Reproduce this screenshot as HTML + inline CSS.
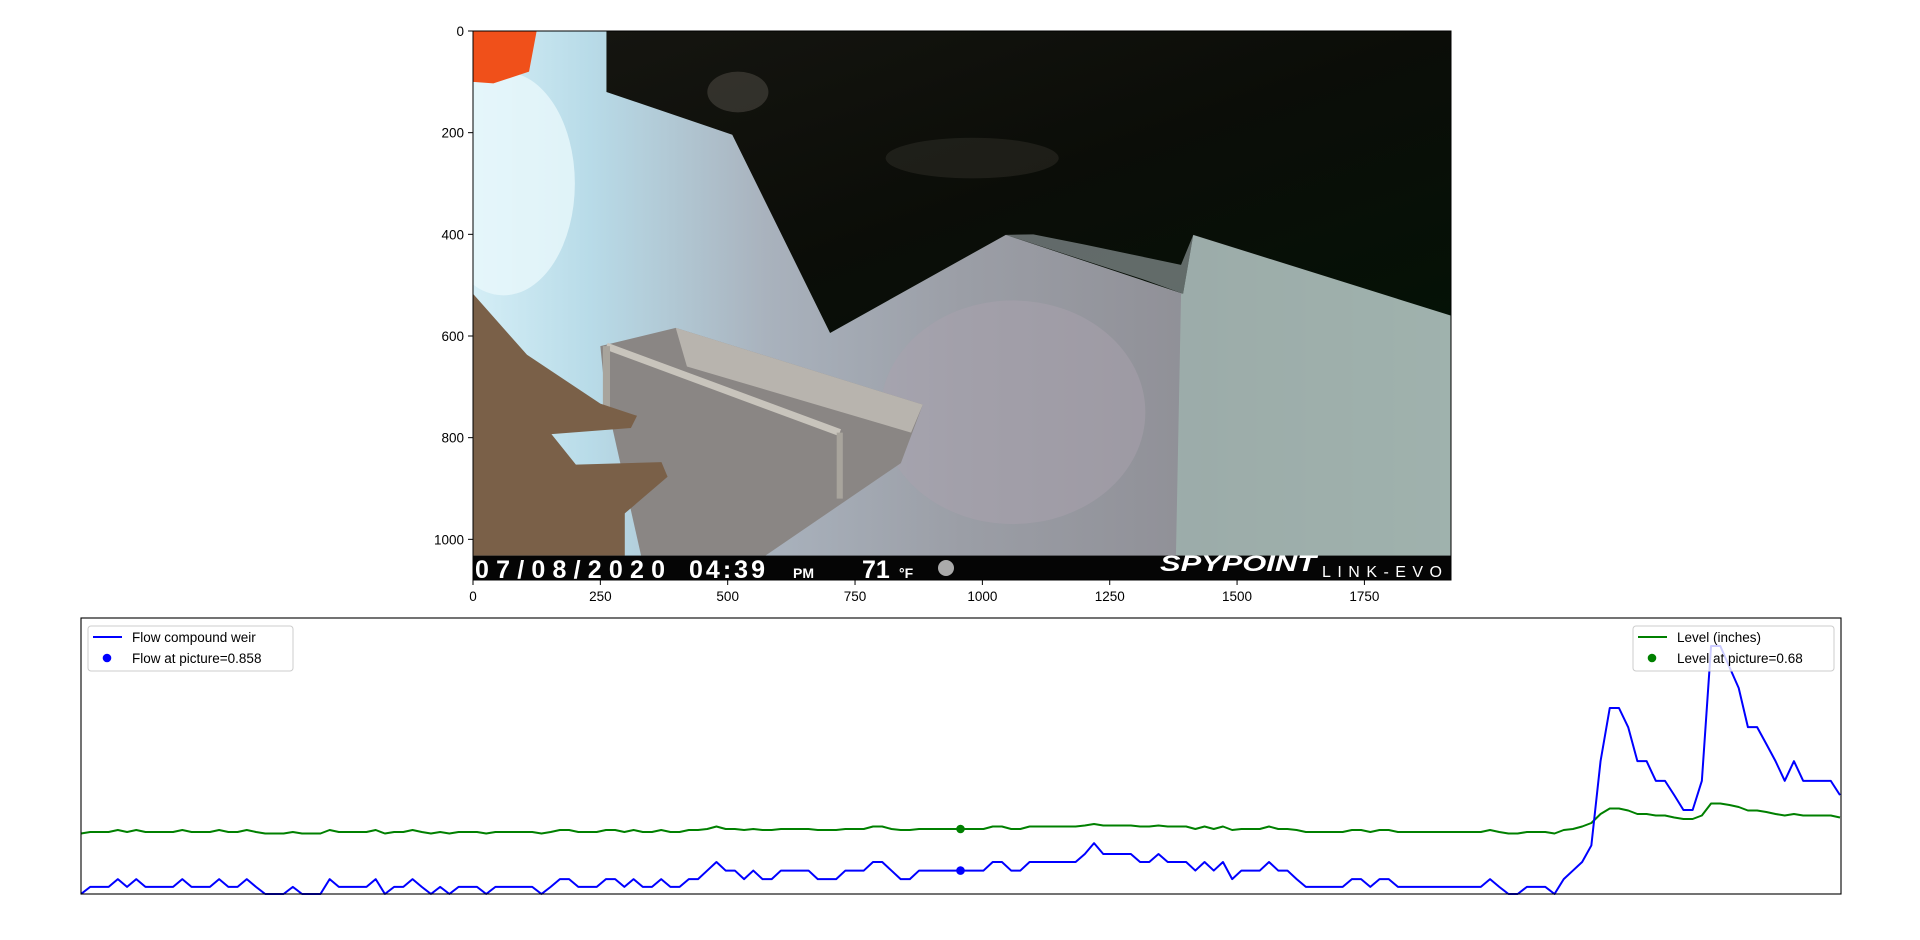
<!DOCTYPE html>
<html><head><meta charset="utf-8">
<style>
html,body{margin:0;padding:0;background:#fff;width:1920px;height:940px;overflow:hidden}
svg{display:block}
text{font-family:"Liberation Sans","DejaVu Sans",sans-serif}
</style></head>
<body>
<svg id="root" width="1920" height="940" viewBox="0 0 1920 940">
  <defs>
    <linearGradient id="leftMetal" x1="0" y1="0" x2="1" y2="0">
      <stop offset="0" stop-color="#d4eef6"/>
      <stop offset="0.12" stop-color="#b8dbe8"/>
      <stop offset="0.3" stop-color="#a9b2bd"/>
      <stop offset="0.5" stop-color="#9b9ea6"/>
      <stop offset="0.75" stop-color="#8f8f96"/>
      <stop offset="1" stop-color="#a2b3ae"/>
    </linearGradient>
    <linearGradient id="darkGrad" x1="0" y1="0" x2="1" y2="1">
      <stop offset="0" stop-color="#151510"/>
      <stop offset="0.5" stop-color="#0b0d08"/>
      <stop offset="1" stop-color="#041206"/>
    </linearGradient>
  </defs>
  <g>
    <svg x="473" y="31" width="978" height="549" viewBox="0 0 1920 1080" preserveAspectRatio="none">
      <rect x="0" y="0" width="1920" height="1080" fill="url(#leftMetal)"/>
      <polygon points="1413,401 1920,560 1920,1032 1380,1032 1390,520" fill="#9fb2ad" opacity="0.85"/>
      <ellipse cx="1060" cy="750" rx="260" ry="220" fill="#a9a2ad" opacity="0.5"/>
      <ellipse cx="60" cy="300" rx="140" ry="220" fill="#e8f8fb" opacity="0.8"/>
      <polygon points="262,0 1920,0 1920,560 1414,401 1394,517 1046,401 701,594 509,204 262,120" fill="url(#darkGrad)"/>
      <ellipse cx="520" cy="120" rx="60" ry="40" fill="#4a4640" opacity="0.6"/>
      <ellipse cx="980" cy="250" rx="170" ry="40" fill="#3a3830" opacity="0.4"/>
      <polygon points="1046,401 1320,490 1394,517 1414,401 1390,460 1200,420 1100,400" fill="#d0dce2" opacity="0.45"/>
      <path d="M0,0 H125 L110,80 L40,103 L0,100 Z" fill="#f0501a"/>
      <polygon points="250,620 398,584 883,735 840,850 574,1032 330,1032 260,720" fill="#8a8684"/>
      <polygon points="398,584 883,735 860,790 420,660" fill="#b8b4ae"/>
      <line x1="262" y1="620" x2="720" y2="790" stroke="#c8c4bc" stroke-width="14"/>
      <line x1="262" y1="620" x2="262" y2="740" stroke="#a8a49c" stroke-width="14"/>
      <line x1="720" y1="790" x2="720" y2="920" stroke="#a8a49c" stroke-width="12"/>
      <polygon points="0,517 106,637 250,733 322,757 310,781 154,793 202,853 370,848 382,877 298,949 298,1032 0,1032" fill="#7a6048"/>
      <rect x="0" y="1032" width="1920" height="48" fill="#050505"/>
    </svg>
    <text x="475" y="578" fill="#fff" font-size="25" font-weight="bold" textLength="190" lengthAdjust="spacing">07/08/2020</text>
    <text x="689" y="578" fill="#fff" font-size="25" font-weight="bold" textLength="76" lengthAdjust="spacing">04:39</text>
    <text x="793" y="578" fill="#fff" font-size="14" font-weight="bold">PM</text>
    <text x="862" y="578" fill="#fff" font-size="25" font-weight="bold">71</text>
    <text x="899" y="578" fill="#fff" font-size="14" font-weight="bold">°F</text>
    <circle cx="946" cy="568" r="8" fill="#aaa"/>
    <text x="1160" y="571" fill="#fff" font-size="22" font-weight="bold" font-style="italic" textLength="156" lengthAdjust="spacingAndGlyphs">SPYPOINT</text>
    <text x="1322" y="577" fill="#fff" font-size="16" textLength="120" lengthAdjust="spacing">LINK-EVO</text>
    <rect x="473" y="31" width="978" height="549" fill="none" stroke="#000" stroke-width="1"/>
  </g>
  <g id="imgAxes"></g>
  <g id="chart">
    <rect x="81" y="618" width="1760" height="276" fill="#fff" stroke="none"/>
    <g id="series"></g>
    <rect x="81" y="618" width="1760" height="276" fill="none" stroke="#000" stroke-width="1.1"/>
    <g>
      <rect x="88" y="626" width="205" height="45" rx="3" fill="#fff" fill-opacity="0.8" stroke="#ccc" stroke-width="1"/>
      <g>
        <line x1="93" y1="637" x2="122" y2="637" stroke="#0000ff" stroke-width="2"/>
        <text x="132" y="642" font-size="13.5" fill="#000">Flow compound weir</text>
      </g>
      <g>
        <circle cx="107" cy="658" r="4.3" fill="#0000ff"/>
        <text x="132" y="663" font-size="13.5" fill="#000">Flow at picture=0.858</text>
      </g>
    </g>
    <g>
      <rect x="1633" y="626" width="201" height="45" rx="3" fill="#fff" fill-opacity="0.8" stroke="#ccc" stroke-width="1"/>
      <g>
        <line x1="1638" y1="637" x2="1667" y2="637" stroke="#008000" stroke-width="2"/>
        <text x="1677" y="642" font-size="13.5" fill="#000">Level (inches)</text>
      </g>
      <g>
        <circle cx="1652" cy="658" r="4.3" fill="#008000"/>
        <text x="1677" y="663" font-size="13.5" fill="#000">Level at picture=0.68</text>
      </g>
    </g>
  </g>
</svg>
<script>
const imgXTicks = [0, 250, 500, 750, 1000, 1250, 1500, 1750];
const imgYTicks = [0, 200, 400, 600, 800, 1000];
const flow = [
0.776,0.801,0.801,0.801,0.828,0.801,0.828,0.801,0.801,0.801,
0.801,0.828,0.801,0.801,0.801,0.828,0.801,0.801,0.828,0.801,
0.776,0.776,0.776,0.801,0.776,0.776,0.776,0.828,0.801,0.801,
0.801,0.801,0.828,0.776,0.801,0.801,0.828,0.801,0.776,0.801,
0.776,0.801,0.801,0.801,0.776,0.801,0.801,0.801,0.801,0.801,
0.776,0.801,0.828,0.828,0.801,0.801,0.801,0.828,0.828,0.801,
0.828,0.801,0.801,0.828,0.801,0.801,
0.828,0.828,0.858,0.888,0.858,0.858,0.828,0.858,0.828,0.828,
0.858,0.858,0.858,0.858,0.828,0.828,0.828,0.858,0.858,0.858,
0.888,0.888,0.858,0.828,0.828,0.858,0.858,0.858,0.858,0.858,
0.858,0.858,0.858,0.888,0.888,0.858,0.858,0.888,0.888,0.888,
0.888,0.888,0.888,0.916,0.954,0.916,0.916,0.916,0.916,0.888,
0.888,0.916,0.888,0.888,0.888,0.858,0.888,0.858,0.888,0.828,
0.858,0.858,0.858,0.888,
0.858,0.858,0.828,0.801,0.801,0.801,0.801,0.801,0.828,0.828,
0.801,0.828,0.828,0.801,0.801,0.801,0.801,0.801,0.801,0.801,
0.801,0.801,0.801,0.828,0.801,0.776,0.776,0.801,0.801,0.801,
0.776,0.828,0.858,0.888,0.946,1.241,1.427,1.427,1.360,1.241,
1.241,1.172,1.172,1.122,1.070,1.070,1.172,1.644,1.644,1.570,
1.497,1.360,1.360,1.301,1.241,1.172,1.241,1.172,1.172,1.172,
1.172,1.122];
const level = [
0.671,0.674,0.674,0.674,0.678,0.674,0.678,0.674,0.674,0.674,
0.674,0.678,0.674,0.674,0.674,0.678,0.674,0.674,0.678,0.674,
0.671,0.671,0.671,0.674,0.671,0.671,0.671,0.678,0.674,0.674,
0.674,0.674,0.678,0.671,0.674,0.674,0.678,0.674,0.671,0.674,
0.671,0.674,0.674,0.674,0.671,0.674,0.674,0.674,0.674,0.674,
0.671,0.674,0.678,0.678,0.674,0.674,0.674,0.678,0.678,0.674,
0.678,0.674,0.674,0.678,0.674,0.674,
0.678,0.678,0.680,0.685,0.680,0.680,0.678,0.680,0.678,0.678,
0.680,0.680,0.680,0.680,0.678,0.678,0.678,0.680,0.680,0.680,
0.685,0.685,0.680,0.678,0.678,0.680,0.680,0.680,0.680,0.680,
0.680,0.680,0.680,0.685,0.685,0.680,0.680,0.685,0.685,0.685,
0.685,0.685,0.685,0.687,0.690,0.687,0.687,0.687,0.687,0.685,
0.685,0.687,0.685,0.685,0.685,0.680,0.685,0.680,0.685,0.678,
0.680,0.680,0.680,0.685,
0.680,0.680,0.678,0.674,0.674,0.674,0.674,0.674,0.678,0.678,
0.674,0.678,0.678,0.674,0.674,0.674,0.674,0.674,0.674,0.674,
0.674,0.674,0.674,0.678,0.674,0.671,0.671,0.674,0.674,0.674,
0.671,0.678,0.680,0.685,0.692,0.710,0.721,0.721,0.717,0.710,
0.710,0.707,0.707,0.703,0.700,0.700,0.707,0.731,0.731,0.728,
0.724,0.717,0.717,0.714,0.710,0.707,0.710,0.707,0.707,0.707,
0.707,0.703];
const pictureIndex = [95.5];
const flowAtPicture = [0.858];
const levelAtPicture = [0.68];

const NS = 'http://www.w3.org/2000/svg';
const ia = document.getElementById('imgAxes');
const ix = v => 473 + v * 978 / 1920;
const iy = v => 31 + v * 549 / 1080;
imgXTicks.forEach(v => {
  const l = document.createElementNS(NS, 'line');
  l.setAttribute('x1', ix(v)); l.setAttribute('x2', ix(v));
  l.setAttribute('y1', 580); l.setAttribute('y2', 585);
  l.setAttribute('stroke', '#000');
  
  
  ia.appendChild(l);
  const t = document.createElementNS(NS, 'text');
  t.setAttribute('x', ix(v)); t.setAttribute('y', 601);
  t.setAttribute('text-anchor', 'middle'); t.setAttribute('font-size', '13.5');
  t.textContent = v;
  
  
  ia.appendChild(t);
});
imgYTicks.forEach(v => {
  const l = document.createElementNS(NS, 'line');
  l.setAttribute('x1', 468); l.setAttribute('x2', 473);
  l.setAttribute('y1', iy(v)); l.setAttribute('y2', iy(v));
  l.setAttribute('stroke', '#000');
  
  
  ia.appendChild(l);
  const t = document.createElementNS(NS, 'text');
  t.setAttribute('x', 464); t.setAttribute('y', iy(v) + 5);
  t.setAttribute('text-anchor', 'end'); t.setAttribute('font-size', '13.5');
  t.textContent = v;
  
  
  ia.appendChild(t);
});
const X0 = 81, X1 = 1840, YT = 618, YB = 894;
const n = flow.length;
const xs = i => X0 + i * (X1 - X0) / (n - 1);
const yFlow = v => YB - (v - 0.776) / (1.742 - 0.776) * (YB - YT);
const yLevel = v => YB - (v - 0.550) / (1.102 - 0.550) * (YB - YT);
const sg = document.getElementById('series');
function poly(arr, yf, color, name) {
  const p = document.createElementNS(NS, 'polyline');
  p.setAttribute('points', arr.map((v, i) => xs(i).toFixed(2) + ',' + yf(v).toFixed(2)).join(' '));
  p.setAttribute('fill', 'none'); p.setAttribute('stroke', color);
  p.setAttribute('stroke-width', '2'); p.setAttribute('stroke-linejoin', 'round');
  
  
  sg.appendChild(p);
}
poly(level, yLevel, '#008000', 'level-line');
poly(flow, yFlow, '#0000ff', 'flow-line');
const d1 = document.createElementNS(NS, 'circle');
d1.setAttribute('cx', xs(pictureIndex[0])); d1.setAttribute('cy', yLevel(levelAtPicture[0]));
d1.setAttribute('r', 4.3); d1.setAttribute('fill', '#008000');


sg.appendChild(d1);
const d2 = document.createElementNS(NS, 'circle');
d2.setAttribute('cx', xs(pictureIndex[0])); d2.setAttribute('cy', yFlow(flowAtPicture[0]));
d2.setAttribute('r', 4.3); d2.setAttribute('fill', '#0000ff');


sg.appendChild(d2);
</script>
</body></html>
